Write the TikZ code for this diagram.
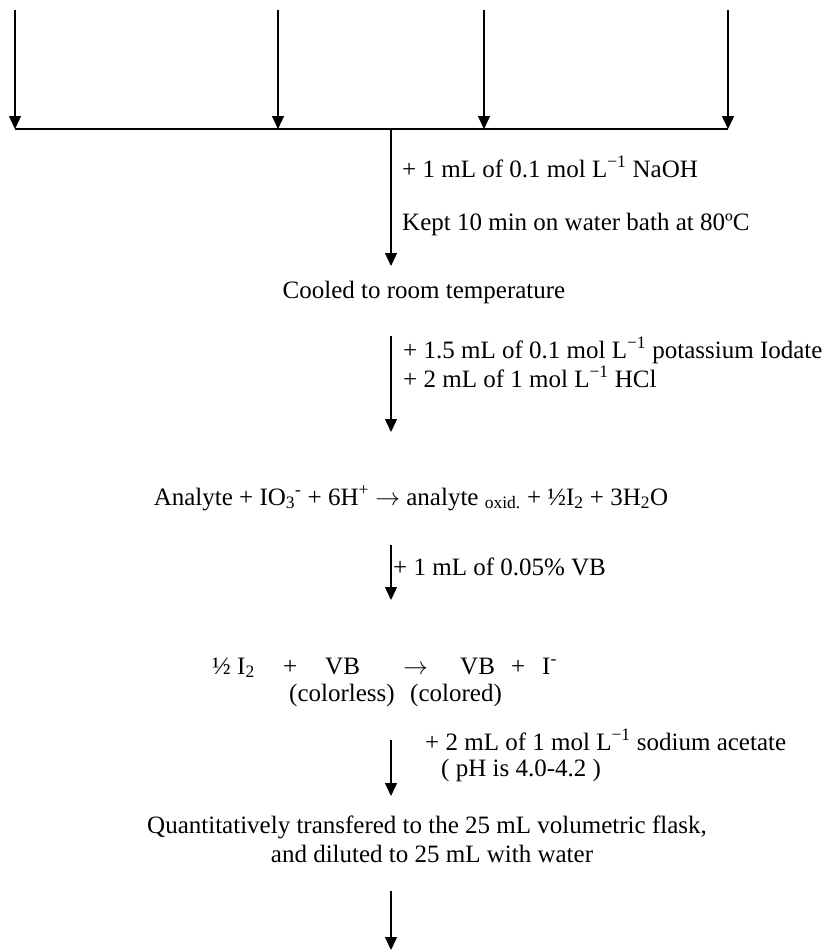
\documentclass[tikz,border=0pt]{standalone}
\usepackage{fontspec}
\setmainfont{Liberation Serif}
\usetikzlibrary{arrows.meta}
\begin{document}
\begin{tikzpicture}[x=1pt,y=-1pt,
  font=\fontsize{25}{28}\selectfont,
  arr/.style={line width=1.3pt,-{Triangle[length=13pt,width=12pt]}},
  bar/.style={line width=2pt},
  lbl/.style={anchor=base west,inner sep=0pt},
  ctr/.style={anchor=base,inner sep=0pt}]
\useasboundingbox (0,0) rectangle (826,951);
% top arrows
\coordinate (t1) at (15,10);  \coordinate (b1) at (15,129);
\coordinate (t2) at (278,10); \coordinate (b2) at (278,129);
\coordinate (t3) at (484,10); \coordinate (b3) at (484,129);
\coordinate (t4) at (728,10); \coordinate (b4) at (728,129);
\draw[arr] (t1) -- (b1);
\draw[arr] (t2) -- (b2);
\draw[arr] (t3) -- (b3);
\draw[arr] (t4) -- (b4);
\draw[bar] (b1) -- (b4);
% step 1
\coordinate (j) at (391,129); \coordinate (e1) at (391,266);
\draw[arr] (j) -- (e1);
\node[lbl] (naoh) at (402,177) {+ 1 mL of 0.1 mol L\textsuperscript{−1} NaOH};
\node[lbl] (kept) at (402,230) {Kept 10 min on water bath at 80ºC};
\node[ctr] (cool) at (424,298) {Cooled to room temperature};
% step 2
\coordinate (s2) at (391,336); \coordinate (e2) at (391,432);
\draw[arr] (s2) -- (e2);
\node[lbl] (kio) at (403,358) {+ 1.5 mL of 0.1 mol L\textsuperscript{−1} potassium Iodate};
\node[lbl] (hcl) at (403,387) {+ 2 mL of 1 mol L\textsuperscript{−1} HCl};
\node[ctr] (react1) at (411,505) {Analyte + IO\textsubscript{3}\textsuperscript{-} + 6H\textsuperscript{+} $\rightarrow$ analyte \textsubscript{oxid.} + ½I\textsubscript{2} + 3H\textsubscript{2}O};
% step 3
\coordinate (s3) at (391,545); \coordinate (e3) at (391,600);
\draw[arr] (s3) -- (e3);
\node[lbl] (vb) at (393,575) {+ 1 mL of 0.05\% VB};
\node[lbl] (r2a) at (212,674) {½ I\textsubscript{2}};
\node[lbl] (r2b) at (283,674) {+};
\node[lbl] (r2c) at (325,674) {VB};
\node[lbl] (r2d) at (403,674) {$\rightarrow$};
\node[lbl] (r2e) at (460,674) {VB};
\node[lbl] (r2f) at (511,674) {+};
\node[lbl] (r2g) at (542,674) {I\textsuperscript{-}};
\node[lbl] (cl1) at (289,701) {(colorless)};
\node[lbl] (cl2) at (410,701) {(colored)};
% step 4
\coordinate (s4) at (391,740); \coordinate (e4) at (391,796);
\draw[arr] (s4) -- (e4);
\node[lbl] (ac) at (425,750) {+ 2 mL of 1 mol L\textsuperscript{−1} sodium acetate};
\node[lbl] (ph) at (441,776) {( pH is 4.0-4.2 )};
\node[ctr] (q1) at (427,833) {Quantitatively transfered to the 25 mL volumetric flask,};
\node[ctr] (q2) at (432,862) {and diluted to 25 mL with water};
% step 5
\coordinate (s5) at (391,891); \coordinate (e5) at (391,950);
\draw[arr] (s5) -- (e5);
\end{tikzpicture}
\end{document}
